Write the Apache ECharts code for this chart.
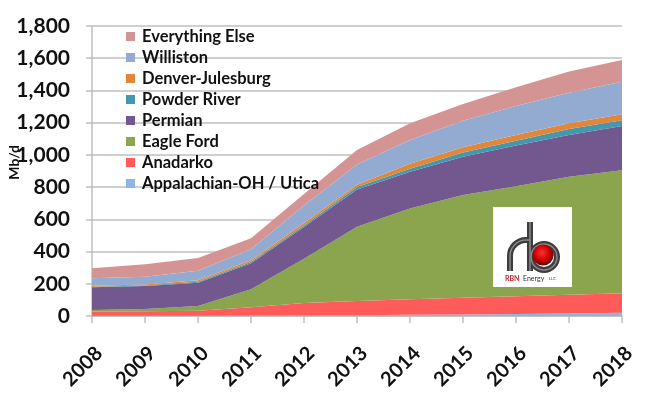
<!DOCTYPE html>
<html>
<head>
<meta charset="utf-8">
<script src="https://cdn.jsdelivr.net/npm/echarts@6/dist/echarts.min.js"></script>
<style>
  html, body { margin: 0; padding: 0; background: #fff; }
  #chart { width: 650px; height: 401px; }
</style>
</head>
<body>
<div id="chart"></div>
<script>
// years on the x axis
var years = ['2008', '2009', '2010', '2011', '2012', '2013', '2014', '2015', '2016', '2017', '2018'];

// production by basin, Mb/d (stacked bottom to top)
var appalachian  = [2, 2, 2, 3, 4, 5, 7, 10, 13, 16, 20];
var anadarko     = [26, 28, 30, 51, 76, 88, 97, 104, 110, 116, 121];
var eagleFord    = [9, 14, 30, 112, 276, 461, 564, 637, 682, 733, 763];
var permian      = [141, 142, 145, 161, 196, 231, 228, 238, 253, 259, 276];
var powderRiver  = [4, 4, 5, 8, 10, 15, 18, 26, 30, 36, 35];
var denverJules  = [6, 5, 10, 11, 15, 15, 31, 33, 36, 36, 37];
var williston    = [46, 49, 59, 68, 109, 125, 147, 164, 180, 190, 202];
var everythingElse = [62, 77, 79, 68, 71, 90, 104, 104, 116, 131, 135];

var yTicks = [0, 200, 400, 600, 800, 1000, 1200, 1400, 1600, 1800];

var font = 'Lato';

function area(name, data, color) {
    return {
        name: name,
        type: 'line',
        stack: 'total',
        data: data,
        symbol: 'none',
        lineStyle: { width: 0 },
        areaStyle: { color: color, opacity: 1 },
        itemStyle: { color: color },
        animation: false
    };
}

// logo pipe pieces, drawn twice (dark tube + light core)
function pipe(stroke, w, z) {
    var st = { fill: null, stroke: stroke, lineWidth: w };
    return [
        { type: 'polyline', shape: { points: [[510, 271], [510, 256]] }, style: st, z: z },
        { type: 'arc', shape: { cx: 526, cy: 256, r: 16, startAngle: Math.PI, endAngle: Math.PI * 1.5, clockwise: true }, style: st, z: z },
        { type: 'polyline', shape: { points: [[526, 240], [530, 240]] }, style: st, z: z },
        { type: 'polyline', shape: { points: [[530, 222], [530, 271]] }, style: st, z: z },
        { type: 'circle', shape: { cx: 544, cy: 257, r: 13 }, style: st, z: z }
    ];
}

var chart = echarts.init(document.getElementById('chart'));

var logo = [
    { type: 'rect', shape: { x: 493, y: 207, width: 79, height: 80 }, style: { fill: '#fff' }, z: 100 }
].concat(pipe('#3d3d3d', 6, 101), pipe('#8a8a8a', 1.5, 102), [
    {
        type: 'circle', shape: { cx: 543, cy: 255, r: 10.5 }, z: 103,
        style: {
            fill: {
                type: 'radial', x: 0.45, y: 0.4, r: 0.6,
                colorStops: [
                    { offset: 0, color: '#ff3030' },
                    { offset: 0.6, color: '#d00000' },
                    { offset: 1, color: '#5a0000' }
                ]
            }
        }
    },
    { type: 'text', x: 505, y: 275, z: 103, style: { text: 'RBN', font: 'bold 7px Lato', fill: '#c0282d' } },
    { type: 'text', x: 523, y: 275, z: 103, style: { text: 'Energy', font: '7px Lato', fill: '#333' } },
    { type: 'text', x: 549, y: 277, z: 103, style: { text: 'LLC', font: '4px Lato', fill: '#333' } }
]);

chart.setOption({
    animation: false,
    grid: {
        left: 92,
        right: 28,
        top: 26,
        bottom: 85,
        containLabel: false,
        outerBoundsMode: 'none'
    },
    legend: {
        orient: 'vertical',
        left: 121,
        top: 23,
        itemWidth: 9,
        itemHeight: 9,
        itemGap: 4,
        icon: 'rect',
        textStyle: { fontFamily: font, fontWeight: 'bold', fontSize: 16.5, color: '#111', lineHeight: 17, padding: [0, 0, 0, 2] },
        data: ['Everything Else', 'Williston', 'Denver-Julesburg', 'Powder River', 'Permian', 'Eagle Ford', 'Anadarko', 'Appalachian-OH / Utica']
    },
    xAxis: {
        type: 'category',
        data: years,
        boundaryGap: false,
        axisLine: { lineStyle: { color: '#bfbfbf', width: 1.5 } },
        axisTick: { length: 7, lineStyle: { color: '#bfbfbf', width: 1.5 } },
        axisLabel: {
            rotate: 45,
            margin: 27,
            verticalAlign: 'top',
            fontFamily: font,
            fontWeight: 'bold',
            fontSize: 20,
            color: '#111'
        }
    },
    yAxis: {
        type: 'value',
        min: yTicks[0],
        max: yTicks[yTicks.length - 1],
        interval: 200,
        axisLine: { show: true, lineStyle: { color: '#bfbfbf', width: 1.5 } },
        axisTick: { show: true, length: 6, lineStyle: { color: '#bfbfbf', width: 1.5 } },
        splitLine: { lineStyle: { color: '#bfbfbf', width: 1.5 } },
        axisLabel: {
            margin: 22,
            fontFamily: font,
            fontWeight: 'bold',
            fontSize: 21,
            color: '#111',
            formatter: function (v) { return v.toLocaleString('en-US'); }
        }
    },
    graphic: [
        {
            type: 'text',
            left: 7,
            top: 145,
            rotation: Math.PI / 2,
            style: { text: 'Mb/d', font: 'bold 14px Lato', fill: '#111' }
        }
    ].concat(logo),
    series: [
        area('Appalachian-OH / Utica', appalachian, '#8db4e2'),
        area('Anadarko', anadarko, '#ff5b5b'),
        area('Eagle Ford', eagleFord, '#8ba54e'),
        area('Permian', permian, '#72588f'),
        area('Powder River', powderRiver, '#4298ae'),
        area('Denver-Julesburg', denverJules, '#e2873a'),
        area('Williston', williston, '#94abd1'),
        area('Everything Else', everythingElse, '#d59494')
    ]
});
</script>
</body>
</html>
